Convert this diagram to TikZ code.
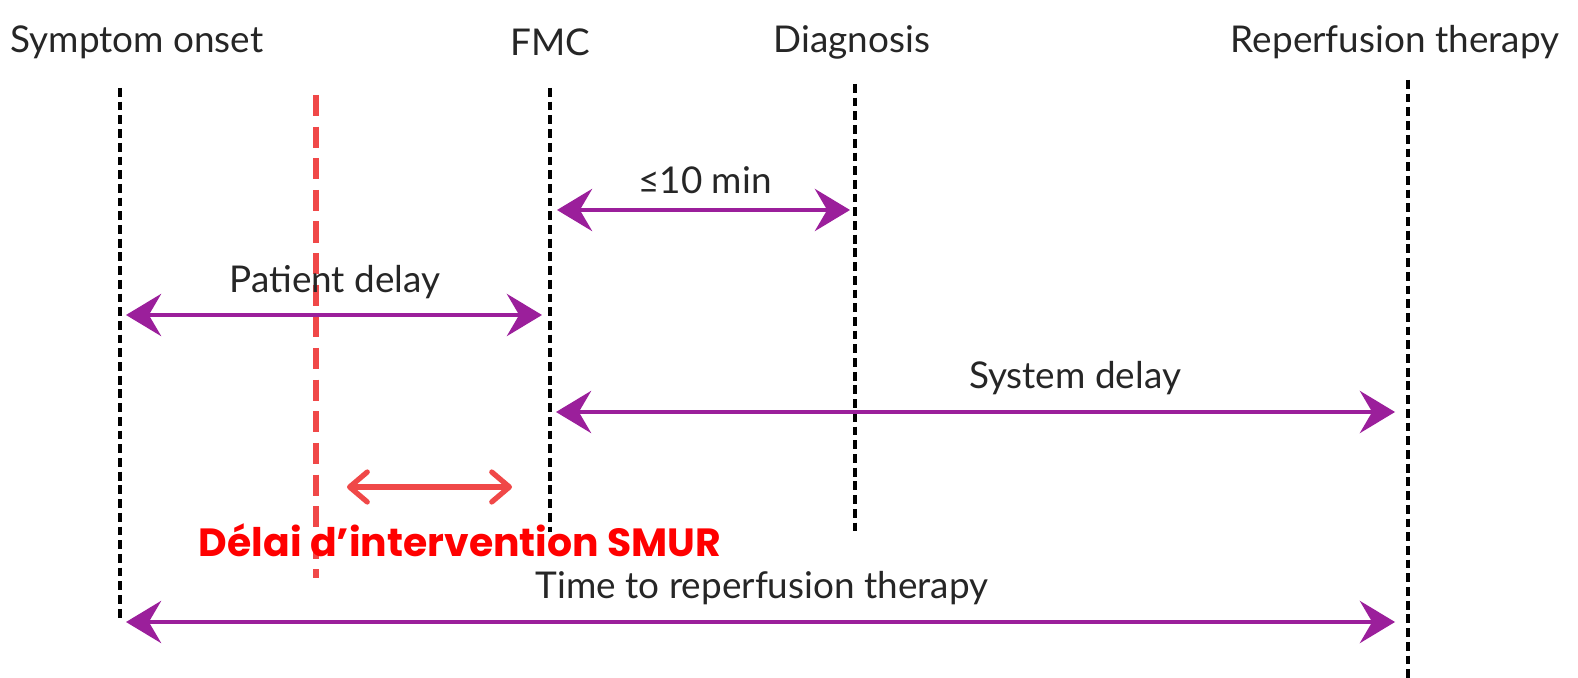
\documentclass[tikz,border=0pt]{standalone}
\usepackage{fontspec}
\setmainfont{Lato}
\newfontfamily\smurfont{Poppins}
\usetikzlibrary{arrows.meta,positioning}
\definecolor{delaypurple}{HTML}{9B1F9B}
\definecolor{smurred}{HTML}{F04848}
\begin{document}
\begin{tikzpicture}[x=0.02cm,y=-0.02cm,
event/.style={font=\fontsize{21}{23}\selectfont,text=black!85,inner sep=0pt},
label/.append style={font=\fontsize{21}{23}\selectfont,text=black!85,inner sep=0pt},
milestone/.style={black,line width=2pt,dash pattern=on 5pt off 2.8pt},
delay/.style={delaypurple,line width=2.3pt,{Stealth[length=20pt,width=24pt,inset=7pt]}-{Stealth[length=20pt,width=24pt,inset=7pt]}},
smur/.style={smurred,line width=3pt,line cap=round,{Straight Barb[length=10pt,width=17pt,round]}-{Straight Barb[length=10pt,width=17pt,round]}},
smurline/.style={smurred,line width=3pt,dash pattern=on 12pt off 6pt}
]
\useasboundingbox (0,0) rectangle (1578,678);

% events along the top
  \node (onset)   [event] at (137,42)   {Symptom onset};
  \node (fmc)     [event] at (550,42)   {FMC};
  \node (diag)    [event] at (852,42)   {Diagnosis};
  \node (reperf)  [event] at (1395,42)  {Reperfusion therapy};

% ends of the dashed lines
  \coordinate (onsetT)  at (120,88);   \coordinate (onsetB)  at (120,622);
  \coordinate (fmcT)    at (550,88);   \coordinate (fmcB)    at (550,532);
  \coordinate (diagT)   at (855,84);   \coordinate (diagB)   at (855,532);
  \coordinate (reperfT) at (1408,80);  \coordinate (reperfB) at (1408,678);
  \coordinate (smurT)   at (316,95);   \coordinate (smurB)   at (316,578);

\path[milestone] (onsetT) edge (onsetB);
\path[milestone] (fmcT) edge (fmcB);
\path[milestone] (diagT) edge (diagB);
\path[milestone] (reperfT) edge (reperfB);
\path[smurline] (smurT) edge (smurB);

% delays
  \coordinate (tenL)     at (557,210);  \coordinate (tenR)     at (850,210);
  \coordinate (patL)     at (126,315);  \coordinate (patR)     at (542,315);
  \coordinate (sysL)     at (556,412);  \coordinate (sysR)     at (1395,412);
  \coordinate (smurL)    at (347,487);  \coordinate (smurR)    at (512,487);
  \coordinate (totalL)   at (126,622);  \coordinate (totalR)   at (1395,622);

\path[delay] (tenL) edge (tenR);
\path[delay] (patL) edge (patR);
\path[delay] (sysL) edge (sysR);
\path[delay] (totalL) edge (totalR);
\draw[smur] (smurL) -- (smurR);

  \node (ten)    [label] at (705,180)  {≤10 min};
  \node (pat)    [label] at (335,282)  {Patient delay};
  \node (sys)    [label] at (1075,378) {System delay};
  \node (total)  [label] at (762,588)  {Time to reperfusion therapy};
  \node (smurtxt) [text=red,font=\smurfont\bfseries\fontsize{22.4}{24}\selectfont,inner sep=0pt] at (460,540) {Délai d’intervention SMUR};

\end{tikzpicture}
\end{document}
